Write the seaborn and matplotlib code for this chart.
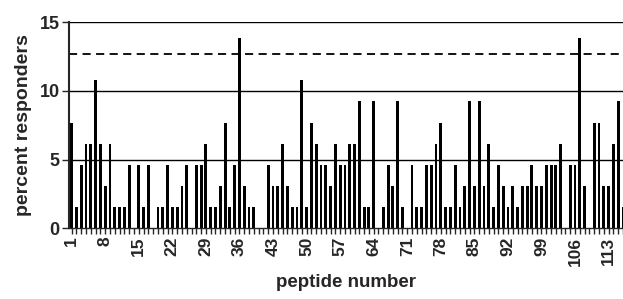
import numpy as np
import pandas as pd
import matplotlib
matplotlib.use('Agg')
import matplotlib.pyplot as plt
import seaborn as sns

# percent responders per peptide (1..116)
peptides = list(range(1, 117))
percent = [
    7.69, 1.54, 4.62, 6.15, 6.15, 10.77, 6.15, 3.08, 6.15, 1.54,
    1.54, 1.54, 4.62, 0.0, 4.62, 1.54, 4.62, 0.0, 1.54, 1.54,
    4.62, 1.54, 1.54, 3.08, 4.62, 0.0, 4.62, 4.62, 6.15, 1.54,
    1.54, 3.08, 7.69, 1.54, 4.62, 13.85, 3.08, 1.54, 1.54, 0.0,
    0.0, 4.62, 3.08, 3.08, 6.15, 3.08, 1.54, 1.54, 10.77, 1.54,
    7.69, 6.15, 4.62, 4.62, 3.08, 6.15, 4.62, 4.62, 6.15, 6.15,
    9.23, 1.54, 1.54, 9.23, 0.0, 1.54, 4.62, 3.08, 9.23, 1.54,
    0.0, 4.62, 1.54, 1.54, 4.62, 4.62, 6.15, 7.69, 1.54, 1.54,
    4.62, 1.54, 3.08, 9.23, 3.08, 9.23, 3.08, 6.15, 1.54, 4.62,
    3.08, 1.54, 3.08, 1.54, 3.08, 3.08, 4.62, 3.08, 3.08, 4.62,
    4.62, 4.62, 6.15, 0.0, 4.62, 4.62, 13.85, 3.08, 0.0, 7.69,
    7.69, 3.08, 3.08, 6.15, 9.23, 1.54,
]
threshold = 12.65
labelled = list(range(1, 117, 7))

df = pd.DataFrame({'peptide': peptides, 'percent': percent})

sns.set_style('ticks')
plt.rcParams['font.family'] = ['Liberation Sans', 'DejaVu Sans']
plt.rcParams['font.weight'] = 'bold'

fig = plt.figure(figsize=(6.23, 2.99), dpi=100)
ax = fig.add_axes([0.1112, 0.2365, 0.8888, 0.6899])

for yv in [5, 10, 15]:
    ax.axhline(yv, color='black', lw=1, zorder=0)
ax.axhline(threshold, color='black', lw=1.3, ls=(0, (4.5, 3)), zorder=0)

sns.barplot(data=df, x='peptide', y='percent', native_scale=True, color='black',
            width=0.6, linewidth=0, saturation=1, errorbar=None, ax=ax)

ax.set_xlim(0.5, 116.0)
ax.set_ylim(0, 15)
ax.set_yticks([0, 5, 10, 15])
ax.set_xticks(peptides)
ax.set_xticklabels([str(p) if p in labelled else '' for p in peptides],
                   rotation=90, fontsize=12.5, fontweight='bold')
ax.tick_params(axis='x', length=4, width=1, pad=2)
ax.tick_params(axis='y', length=5, width=1, labelsize=13, pad=2)
for lab in ax.get_yticklabels():
    lab.set_fontweight('bold')

ax.spines['top'].set_visible(False)
ax.spines['right'].set_visible(False)
ax.spines['left'].set_linewidth(1.5)
ax.spines['bottom'].set_linewidth(1)

ax.set_xlabel('peptide number', fontsize=13.5, fontweight='bold', labelpad=6)
ax.set_ylabel('percent responders', fontsize=14, fontweight='bold', labelpad=5)

fig.savefig('out.png', dpi=100)
